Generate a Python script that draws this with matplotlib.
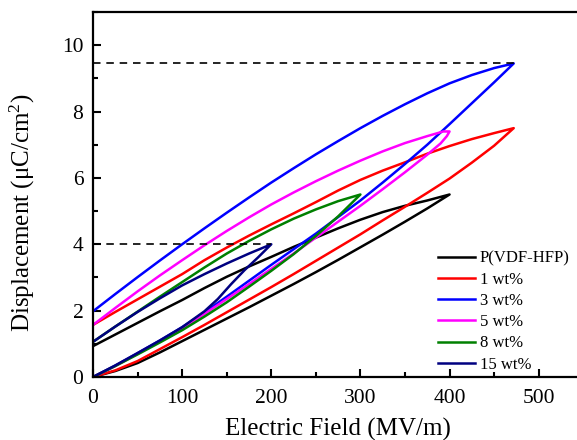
import matplotlib
matplotlib.use('Agg')
import matplotlib.pyplot as plt
from matplotlib.ticker import MultipleLocator

plt.rcParams['font.family'] = ['Liberation Serif', 'DejaVu Serif']
plt.rcParams['mathtext.fontset'] = 'stix'

# unipolar D-E loops: charging branch (0 -> Emax), discharging branch (Emax -> 0)
labels = ['P(VDF-HFP)', '1 wt%', '3 wt%', '5 wt%', '8 wt%', '15 wt%']
colors = ['#000000', '#ff0000', '#0000ff', '#ff00ff', '#008000', '#000080']

# P(VDF-HFP)
E_up_0 = [0, 25, 50, 75, 100, 125, 150, 175, 200, 225, 250, 275, 300, 325, 350, 375, 400]
D_up_0 = [0, 0.18, 0.42, 0.74, 1.08, 1.42, 1.76, 2.1, 2.45, 2.8, 3.16, 3.53, 3.91, 4.29, 4.68, 5.08, 5.5]
E_dn_0 = [400, 375, 350, 325, 300, 275, 250, 225, 200, 175, 150, 125, 100, 75, 50, 25, 0]
D_dn_0 = [5.5, 5.32, 5.16, 4.97, 4.74, 4.48, 4.2, 3.92, 3.62, 3.33, 3.02, 2.68, 2.32, 1.98, 1.63, 1.28, 0.93]

# 1 wt%
E_up_1 = [0, 25, 50, 75, 100, 125, 150, 175, 200, 225, 250, 275, 300, 325, 350, 375, 400, 425, 450, 472]
D_up_1 = [0, 0.2, 0.48, 0.84, 1.2, 1.57, 1.95, 2.33, 2.71, 3.1, 3.5, 3.9, 4.3, 4.72, 5.13, 5.55, 5.98, 6.46, 6.97, 7.5]
E_dn_1 = [472, 450, 425, 400, 375, 350, 325, 300, 275, 250, 225, 200, 175, 150, 125, 100, 75, 50, 25, 0]
D_dn_1 = [7.5, 7.35, 7.17, 6.96, 6.73, 6.47, 6.22, 5.94, 5.62, 5.27, 4.93, 4.6, 4.26, 3.9, 3.52, 3.1, 2.72, 2.34, 1.96, 1.57]

# 3 wt%
E_up_3 = [0, 25, 50, 75, 100, 125, 150, 175, 200, 225, 250, 275, 300, 325, 350, 375, 400, 425, 450, 472]
D_up_3 = [0, 0.34, 0.72, 1.1, 1.5, 1.95, 2.42, 2.9, 3.38, 3.85, 4.32, 4.82, 5.32, 5.86, 6.42, 7.0, 7.62, 8.25, 8.88, 9.45]
E_dn_3 = [472, 450, 425, 400, 375, 350, 325, 300, 275, 250, 225, 200, 175, 150, 125, 100, 75, 50, 25, 0]
D_dn_3 = [9.45, 9.31, 9.1, 8.85, 8.55, 8.22, 7.87, 7.5, 7.11, 6.71, 6.29, 5.86, 5.41, 4.95, 4.48, 4.0, 3.51, 3.01, 2.5, 1.98]

# 5 wt%
E_up_5 = [0, 25, 50, 75, 100, 125, 150, 175, 200, 225, 250, 275, 300, 325, 350, 375, 390, 397, 400]
D_up_5 = [0, 0.33, 0.7, 1.08, 1.47, 1.9, 2.35, 2.8, 3.26, 3.72, 4.2, 4.68, 5.16, 5.66, 6.17, 6.7, 7.04, 7.26, 7.4]
E_dn_5 = [400, 393, 375, 350, 325, 300, 275, 250, 225, 200, 175, 150, 125, 100, 75, 50, 25, 0]
D_dn_5 = [7.4, 7.4, 7.26, 7.05, 6.8, 6.52, 6.22, 5.9, 5.56, 5.2, 4.81, 4.4, 3.97, 3.52, 3.06, 2.58, 2.08, 1.57]

# 8 wt%
E_up_8 = [0, 25, 50, 75, 100, 125, 150, 175, 200, 225, 250, 275, 300]
D_up_8 = [0, 0.33, 0.68, 1.04, 1.41, 1.82, 2.25, 2.72, 3.2, 3.7, 4.25, 4.84, 5.5]
E_dn_8 = [300, 275, 250, 225, 200, 175, 150, 125, 100, 75, 50, 25, 0]
D_dn_8 = [5.5, 5.3, 5.05, 4.77, 4.45, 4.1, 3.72, 3.3, 2.86, 2.42, 1.97, 1.52, 1.06]

# 15 wt%
E_up_15 = [0, 25, 50, 75, 100, 125, 140, 155, 170, 185, 200]
D_up_15 = [0, 0.35, 0.72, 1.1, 1.5, 1.98, 2.35, 2.8, 3.22, 3.6, 4.0]
E_dn_15 = [200, 175, 150, 125, 100, 75, 50, 25, 0]
D_dn_15 = [4.0, 3.72, 3.42, 3.1, 2.76, 2.37, 1.96, 1.52, 1.06]

E_up = [E_up_0, E_up_1, E_up_3, E_up_5, E_up_8, E_up_15]
D_up = [D_up_0, D_up_1, D_up_3, D_up_5, D_up_8, D_up_15]
E_dn = [E_dn_0, E_dn_1, E_dn_3, E_dn_5, E_dn_8, E_dn_15]
D_dn = [D_dn_0, D_dn_1, D_dn_3, D_dn_5, D_dn_8, D_dn_15]

fig = plt.figure(figsize=(5.77, 4.4), dpi=100)
ax = fig.add_axes([0.1612, 0.1432, 0.8388, 0.8295])

for i in range(len(labels)):
    ax.plot(E_up[i] + E_dn[i][1:], D_up[i] + D_dn[i][1:], color=colors[i], lw=1.8,
            solid_joinstyle='round', label=labels[i])

# guide lines to the maximum displacement of 3 wt% and 15 wt%
for i in (2, 5):
    ax.plot([0, E_up[i][-1]], [D_up[i][-1], D_up[i][-1]], 'k--', lw=1.2, dashes=(4.5, 3.5))

ax.set_xlim(0, 543)
ax.set_ylim(0, 11)
ax.xaxis.set_major_locator(MultipleLocator(100))
ax.xaxis.set_minor_locator(MultipleLocator(50))
ax.yaxis.set_major_locator(MultipleLocator(2))
ax.yaxis.set_minor_locator(MultipleLocator(1))
ax.tick_params(which='both', direction='in', width=1.5, labelsize=15.5)
ax.tick_params(axis='x', pad=9)
ax.tick_params(axis='y', pad=7)
ax.tick_params(which='major', length=6)
ax.tick_params(which='minor', length=3.5)
for s in ['left', 'bottom', 'top']:
    ax.spines[s].set_linewidth(1.6)
ax.spines['right'].set_visible(False)

ax.set_xlabel('Electric Field (MV/m)', fontsize=18)
ax.set_ylabel(r'Displacement ($\mathregular{\mu}$C/cm$^\mathregular{2}$)', fontsize=18)
ax.xaxis.set_label_coords(0.506, -0.112)
ax.yaxis.set_label_coords(-0.116, 0.45)

ax.legend(loc='upper left', bbox_to_anchor=(0.713, 0.346), frameon=False, fontsize=12,
          handlelength=2.2, handletextpad=0.3, labelspacing=0.31, borderpad=0, borderaxespad=0)

fig.savefig('out.png', dpi=100)
